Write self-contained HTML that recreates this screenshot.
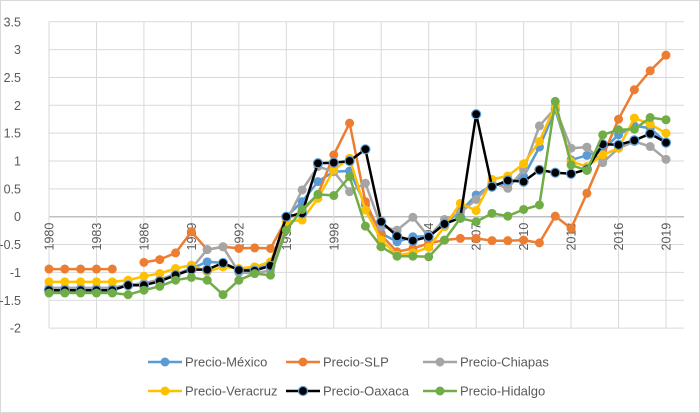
<!DOCTYPE html>
<html><head><meta charset="utf-8"><style>
body{margin:0;background:#fff}
svg{display:block;font-family:"Liberation Sans",sans-serif}
</style></head><body>
<svg id="chart" width="700" height="413" viewBox="0 0 700 413" xmlns="http://www.w3.org/2000/svg">
<rect x="0.5" y="0.5" width="699" height="412" fill="#fff" stroke="#d9d9d9"/>
<g id="grid"></g><g id="axes"></g><g id="series"></g><g id="legend"></g>
</svg>
<script>
const years=[];for(let y=1980;y<=2019;y++)years.push(y);
const yTicks=[-2,-1.5,-1,-0.5,0,0.5,1,1.5,2,2.5,3,3.5];
const yTickLabels=["-2","-1.5","-1","-0.5","0","0.5","1","1.5","2","2.5","3","3.5"];
const xTickYears=[1980,1983,1986,1989,1992,1995,1998,2001,2004,2007,2010,2013,2016,2019];
const seriesNames=["Precio-México","Precio-SLP","Precio-Chiapas","Precio-Veracruz","Precio-Oaxaca","Precio-Hidalgo"];
const mexico=[-1.28,-1.28,-1.28,-1.28,-1.28,-1.22,-1.2,-1.13,-1.03,-0.93,-0.81,-0.83,-0.95,-0.92,-0.88,0,0.27,0.63,0.81,0.82,0.21,-0.3,-0.45,-0.36,-0.35,-0.12,0.09,0.39,0.57,0.6,0.72,1.25,1.92,1.02,1.1,1.2,1.47,1.63,1.59,1.33];
const slp=[-0.94,-0.94,-0.94,-0.94,-0.94,null,-0.82,-0.77,-0.65,-0.27,-0.59,-0.54,-0.57,-0.56,-0.57,-0.05,0.1,0.4,1.11,1.68,0.27,-0.33,-0.63,-0.57,-0.48,-0.42,-0.39,-0.39,-0.43,-0.43,-0.42,-0.47,0.01,-0.21,0.42,1.08,1.75,2.28,2.62,2.9];
const chiapas=[-1.28,-1.28,-1.28,-1.28,-1.28,-1.22,-1.2,-1.13,-1.03,-0.93,-0.59,-0.54,-1.0,-1.02,-0.96,-0.09,0.48,0.9,0.81,0.45,0.6,-0.18,-0.24,-0.01,-0.36,-0.05,0.07,0.31,0.61,0.51,0.84,1.63,1.95,1.23,1.25,0.97,1.23,1.35,1.26,1.03];
const veracruz=[-1.17,-1.17,-1.17,-1.17,-1.17,-1.14,-1.07,-1.02,-0.93,-0.87,-0.99,-0.9,-0.93,-0.9,-0.81,-0.09,-0.06,0.33,0.84,1.05,0.12,-0.42,-0.69,-0.65,-0.55,-0.18,0.24,0.11,0.67,0.73,0.95,1.35,2.0,0.99,0.9,1.11,1.23,1.77,1.66,1.5];
const oaxaca=[-1.32,-1.32,-1.32,-1.32,-1.32,-1.23,-1.23,-1.16,-1.05,-0.95,-0.95,-0.83,-0.96,-0.97,-0.88,0,0.06,0.96,0.97,1.0,1.21,-0.09,-0.35,-0.43,-0.36,-0.13,-0.02,1.84,0.54,0.65,0.63,0.84,0.79,0.77,0.85,1.3,1.29,1.37,1.49,1.33];
const hidalgo=[-1.37,-1.37,-1.37,-1.37,-1.37,-1.4,-1.32,-1.25,-1.14,-1.09,-1.14,-1.4,-1.14,-1.02,-1.05,-0.24,0.13,0.4,0.38,0.72,-0.17,-0.54,-0.71,-0.71,-0.72,-0.42,-0.03,-0.09,0.06,0.01,0.13,0.21,2.07,0.93,0.83,1.47,1.56,1.57,1.78,1.74];

const NS="http://www.w3.org/2000/svg";
const X0=49,X1=666,Y0=216.7,UNIT=55.7,TOP=21.7,BOT=328,RIGHT=684;
const xs=yr=>X0+(yr-1980)*(X1-X0)/39;
const ys=v=>Y0-v*UNIT;
function mk(tag,attrs,parent){const e=document.createElementNS(NS,tag);for(const k in attrs)e.setAttribute(k,attrs[k]);parent.appendChild(e);return e;}
const grid=document.getElementById('grid'),axes=document.getElementById('axes'),ser=document.getElementById('series'),leg=document.getElementById('legend');
yTicks.forEach((t,i)=>{
  const l=mk('line',{x1:X0,x2:RIGHT,y1:ys(t),y2:ys(t),stroke:t===0?'#bfbfbf':'#d9d9d9','stroke-width':t===0?1.5:1},grid);
  
  
  const tx=mk('text',{x:21,y:ys(t)+4.5,'text-anchor':'end','font-size':12.5,fill:'#595959'},axes);
  tx.textContent=yTickLabels[i];
  
  
});
xTickYears.forEach(yr=>{
  const l=mk('line',{x1:xs(yr),x2:xs(yr),y1:TOP,y2:BOT,stroke:'#d9d9d9','stroke-width':1},grid);
  
  
  const tx=mk('text',{x:0,y:0,'text-anchor':'end','font-size':12.5,fill:'#595959',transform:`translate(${xs(yr)+4.5},${Y0+6}) rotate(-90)`},axes);
  tx.textContent=String(yr);
  
  
});
const colors=['#5b9bd5','#ed7d31','#a5a5a5','#ffc000','#000000','#70ad47'];
const data=[mexico,slp,chiapas,veracruz,oaxaca,hidalgo];
const keys=['mexico','slp','chiapas','veracruz','oaxaca','hidalgo'];
data.forEach((vals,si)=>{
  const g=mk('g',{},ser);
  
  
  let d='',pen=false;
  vals.forEach((v,i)=>{if(v===null){pen=false;return;}d+=(pen?'L':'M')+xs(years[i]).toFixed(1)+' '+ys(v).toFixed(1)+' ';pen=true;});
  const p=mk('path',{d:d,fill:'none',stroke:colors[si],'stroke-width':2.5,'stroke-linejoin':'round'},g);
  
  
  vals.forEach((v,i)=>{if(v===null)return;
    const c=mk('circle',{cx:xs(years[i]),cy:ys(v),r:4.5,fill:colors[si],stroke:si===4?'#5b9bd5':colors[si],'stroke-width':si===4?1.2:0},g);
    
    
  });
});
const legPos=[[148,362],[286,362],[423,362],[148,391],[286,391],[423,391]];
seriesNames.forEach((n,i)=>{
  const [lx,ly]=legPos[i];
  const g=mk('g',{},leg);
  
  
  mk('line',{x1:lx,x2:lx+34,y1:ly,y2:ly,stroke:colors[i],'stroke-width':2.5},g);
  mk('circle',{cx:lx+17,cy:ly,r:4.5,fill:colors[i],stroke:i===4?'#5b9bd5':colors[i],'stroke-width':i===4?1.2:0},g);
  const t=mk('text',{x:lx+37,y:ly+4.5,'font-size':13,fill:'#595959'},g);
  t.textContent=n;
});
</script>
</body></html>
